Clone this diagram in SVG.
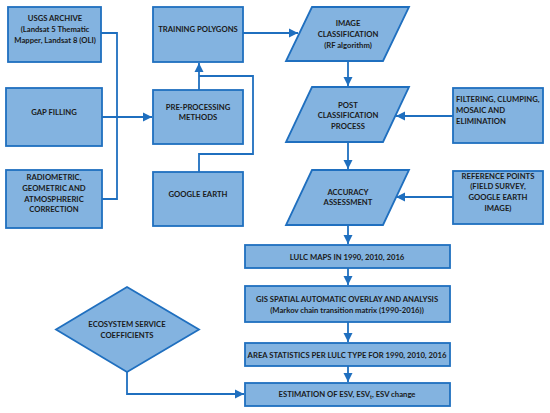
<svg xmlns="http://www.w3.org/2000/svg" width="550" height="413" viewBox="0 0 550 413">
<defs>
<style>
.n{fill:#83b3e0;stroke:#1f6fbf;stroke-width:1.8}
.t{font-family:Lato,"Liberation Sans",sans-serif;font-weight:bold;font-size:7.7px;fill:#1a1a1a;text-anchor:middle}
.l{text-anchor:start}
.c{fill:none;stroke:#1f6fbf;stroke-width:1.8}
</style>
<marker id="a" markerUnits="userSpaceOnUse" markerWidth="10" markerHeight="10" refX="9" refY="5" orient="auto">
<path d="M0,0.5 L9,5 L0,9.5 z" fill="#1f6fbf"/>
</marker>
</defs>
<rect width="550" height="413" fill="#fff"/>
<g id="connectors">
<path class="c" d="M101,33 H117 V199 H102"/>
<path class="c" d="M102,117 H152" marker-end="url(#a)"/>
<path class="c" d="M199,90 V63" marker-end="url(#a)"/>
<path class="c" d="M199,172 V154 H253 V76 H199"/>
<path class="c" d="M243,33 H298" marker-end="url(#a)"/>
<path class="c" d="M348,61 V86" marker-end="url(#a)"/>
<path class="c" d="M453,116 H396" marker-end="url(#a)"/>
<path class="c" d="M348,142 V169" marker-end="url(#a)"/>
<path class="c" d="M453,197 H396" marker-end="url(#a)"/>
<path class="c" d="M348,225 V244" marker-end="url(#a)"/>
<path class="c" d="M348,268 V285" marker-end="url(#a)"/>
<path class="c" d="M348,322 V342" marker-end="url(#a)"/>
<path class="c" d="M348,366 V382" marker-end="url(#a)"/>
<path class="c" d="M127,372 V394 H244" marker-end="url(#a)"/>
</g>
<g id="usgs"><rect class="n" x="8" y="7" width="93" height="55"/>
<text class="t" x="55" y="21">USGS ARCHIVE</text><text class="t" x="55" y="32">(Landsat 5 Thematic</text><text class="t" x="55" y="43">Mapper, Landsat 8 (OLI)</text></g>
<g id="gap"><rect class="n" x="6" y="88" width="96" height="58"/>
<text class="t" x="54" y="115">GAP FILLING</text></g>
<g id="radiometric"><rect class="n" x="6" y="170" width="96" height="58"/>
<text class="t" x="54" y="180">RADIOMETRIC,</text><text class="t" x="54" y="191">GEOMETRIC AND</text><text class="t" x="54" y="202">ATMOSPHRERIC</text><text class="t" x="54" y="212">CORRECTION</text></g>
<g id="training"><rect class="n" x="153" y="7" width="90" height="55"/>
<text class="t" x="198" y="32">TRAINING POLYGONS</text></g>
<g id="preprocessing"><rect class="n" x="153" y="90" width="90" height="54"/>
<text class="t" x="198" y="110">PRE-PROCESSING</text><text class="t" x="198" y="120">METHODS</text></g>
<g id="googleearth"><rect class="n" x="153" y="172" width="90" height="54"/>
<text class="t" x="198" y="197">GOOGLE EARTH</text></g>
<g id="imageclass"><path class="n" d="M312,7 H409 L383,61 H286 Z"/>
<text class="t" x="348" y="26">IMAGE</text><text class="t" x="348" y="37">CLASSIFICATION</text><text class="t" x="348" y="48">(RF algorithm)</text></g>
<g id="postclass"><path class="n" d="M312,87 H409 L383,142 H286 Z"/>
<text class="t" x="348" y="108">POST</text><text class="t" x="348" y="118">CLASSIFICATION</text><text class="t" x="348" y="129">PROCESS</text></g>
<g id="filtering"><rect class="n" x="453" y="88" width="90" height="55"/>
<text class="t l" x="456" y="102">FILTERING, CLUMPING,</text><text class="t l" x="456" y="113">MOSAIC AND</text><text class="t l" x="456" y="124">ELIMINATION</text></g>
<g id="accuracy"><path class="n" d="M312,170 H409 L383,225 H286 Z"/>
<text class="t" x="348" y="195">ACCURACY</text><text class="t" x="348" y="205">ASSESSMENT</text></g>
<g id="reference"><rect class="n" x="453" y="171" width="90" height="53"/>
<text class="t" x="498" y="179">REFERENCE POINTS</text><text class="t" x="498" y="189">(FIELD SURVEY,</text><text class="t" x="498" y="200">GOOGLE EARTH</text><text class="t" x="498" y="211">IMAGE)</text></g>
<g id="lulc"><rect class="n" x="245" y="245" width="205" height="23"/>
<text class="t" x="347" y="260">LULC MAPS IN 1990, 2010, 2016</text></g>
<g id="gis"><rect class="n" x="245" y="286" width="205" height="36"/>
<text class="t" x="347" y="302">GIS SPATIAL AUTOMATIC OVERLAY AND ANALYSIS</text><text class="t" x="347" y="313">(Markov chain transition matrix (1990-2016))</text></g>
<g id="area"><rect class="n" x="245" y="343" width="205" height="23"/>
<text class="t" x="347" y="358">AREA STATISTICS PER LULC TYPE FOR 1990, 2010, 2016</text></g>
<g id="estimation"><rect class="n" x="245" y="383" width="205" height="23"/>
<text class="t" x="347" y="397">ESTIMATION OF ESV, ESV<tspan font-size="5px" dy="2">t</tspan><tspan dy="-2">, ESV change</tspan></text></g>
<g id="ecosystem"><path class="n" d="M127,287 L199,329.5 L127,372 L56,329.5 Z"/>
<text class="t" x="127" y="327">ECOSYSTEM SERVICE</text><text class="t" x="127" y="338">COEFFICIENTS</text></g>
</svg>
